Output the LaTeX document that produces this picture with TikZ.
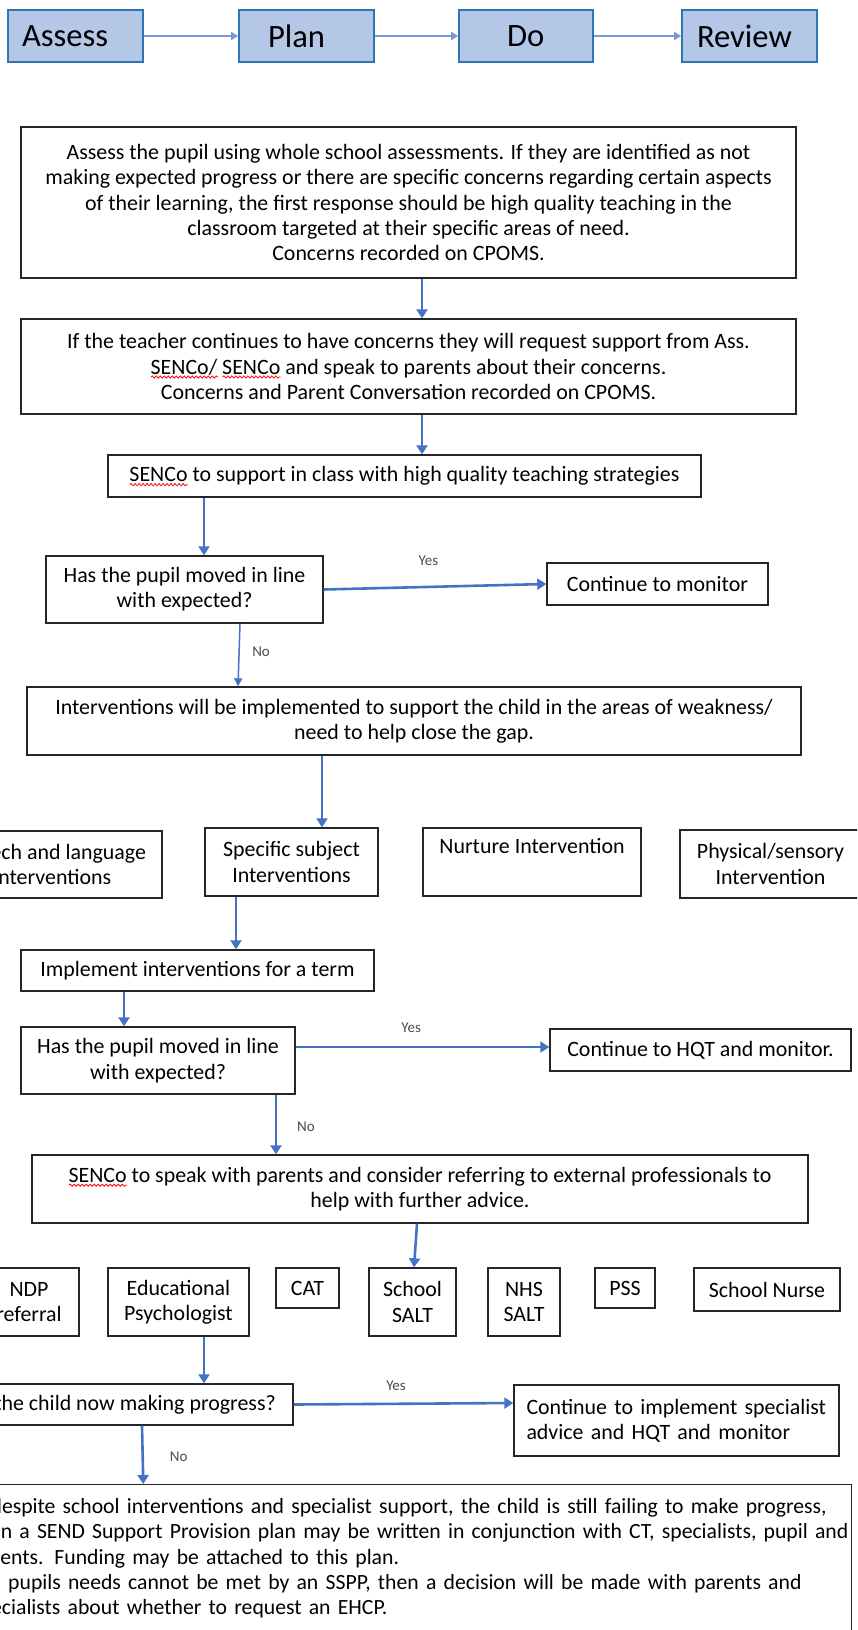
\documentclass[tikz,border=0pt]{standalone}
\usepackage{fontspec}
\setmainfont{Carlito}
\usetikzlibrary{arrows.meta, decorations.pathmorphing}

\definecolor{stageblue}{HTML}{B4C7E7}
\definecolor{stageedge}{HTML}{2E75B6}
\definecolor{flowblue}{HTML}{4472C4}
\definecolor{stagearrow}{HTML}{7A98D6}

\newsavebox{\spellbox}
\newcommand{\spellmark}[1]{%
    \sbox{\spellbox}{#1}%
    \rlap{\smash{\raisebox{-4.5pt}{\tikz \draw [red, line width=0.8pt, decorate, decoration={snake, amplitude=1.1pt, segment length=4pt}] (0pt, 0pt) -- (\wd\spellbox, 0pt);}}}%
    \usebox{\spellbox}}

\tikzset{
    stagebox/.style={draw=stageedge, fill=stageblue, line width=1.6pt, minimum height=52pt, inner ysep=0pt, align=left, font=\fontsize{32.6}{36}\selectfont},
    stepbox/.style={draw=black!85, line width=1.4pt, inner sep=0pt, align=center, font=\fontsize{21.9}{25.3}\selectfont},
    flow/.style={draw=flowblue, line width=2.6pt, -{Triangle[length=9pt, width=11pt]}},
    thinflow/.style={draw=flowblue, line width=1.5pt, -{Triangle[length=8pt, width=8pt]}},
    stageflow/.style={draw=stagearrow, line width=2pt, -{Triangle[length=7pt, width=8pt]}},
    answer/.style={font=\fontsize{15}{17}\selectfont, text=black!70}
}

\begin{document}
\begin{tikzpicture}[x=1pt, y=-1pt]

    \useasboundingbox (0, 0) rectangle (857, 1630);
    \fill [white] (0, 0) rectangle (857, 1630);
    \clip (0, 0) rectangle (857, 1630);

    % assess - plan - do - review
    \node (assess) at (75.5, 36) [stagebox, text width=107pt, inner xsep=14pt] {Assess};
    \node (plan) at (306.5, 36) [stagebox, text width=77pt, inner xsep=29pt] {Plan};
    \node (do) at (526, 36) [stagebox, text width=38pt, inner xsep=48pt] {Do};
    \node (review) at (749.5, 36) [stagebox, text width=105pt, inner xsep=15pt] {Review};

    \draw [stageflow] (assess) -- (plan);
    \draw [stageflow] (plan) -- (do);
    \draw [stageflow] (do) -- (review);

    \node (pupil) at (408.5, 202.5) [stepbox, minimum width=775pt, minimum height=151pt]
        {Assess the pupil using whole school assessments. If they are identified as not\\
         making expected progress or there are specific concerns regarding certain aspects\\
         of their learning, the first response should be high quality teaching in the\\
         classroom targeted at their specific areas of need.\\
         Concerns recorded on CPOMS.};
    \node (teacher) at (408.5, 366.5) [stepbox, minimum width=775pt, minimum height=95pt]
        {If the teacher continues to have concerns they will request support from Ass.\\
         \spellmark{SENCo/} \spellmark{SENCo} and speak to parents about their concerns.\\
         Concerns and Parent Conversation recorded on CPOMS.};
    \node (senco) at (404.5, 476) [stepbox, minimum width=593pt, minimum height=42pt]
        {\spellmark{SENCo} to support in class with high quality teaching strategies};
    \node (moved) at (184.5, 589.5) [stepbox, minimum width=277pt, minimum height=67pt]
        {Has the pupil moved in line\\ with expected?};
    \node (monitor) at (657.5, 584) [stepbox, minimum width=221pt, minimum height=42pt]
        {Continue to monitor};
    \node (interv) at (414, 721) [stepbox, minimum width=774pt, minimum height=68pt]
        {Interventions will be implemented to support the child in the areas of weakness/\\
         need to help close the gap.};

    \draw [flow] ([xshift=13.5pt]pupil.south) -- ([xshift=13.5pt]teacher.north);
    \draw [flow] ([xshift=13.5pt]teacher.south) -- ([xshift=17.5pt]senco.north);
    \draw [flow] ([xshift=-200.5pt]senco.south) -- ([xshift=19.5pt]moved.north);
    \draw [flow] (moved.east) -- (monitor.west) node [answer, pos=0.47, yshift=26pt] {Yes};
    \draw [thinflow] ([xshift=55.5pt]moved.south) -- ([xshift=-176pt]interv.north)
        node [answer, pos=0.45, xshift=22pt] {No};

    % intervention types
    \node (speech) at (52, 864.5) [stepbox, minimum width=220pt, minimum height=67pt]
        {Speech and language\\ Interventions};
    \node (subject) at (291.5, 862) [stepbox, minimum width=173pt, minimum height=68pt]
        {Specific subject\\ Interventions};
    \node (nurture) at (532, 862) [stepbox, minimum width=218pt, minimum height=68pt]
        {Nurture Intervention\\ \strut};
    \node (physical) at (770.5, 864) [stepbox, minimum width=181pt, minimum height=68pt]
        {Physical/sensory\\ Intervention};

    \node (term) at (197.5, 970.5) [stepbox, minimum width=353pt, minimum height=41pt]
        {Implement interventions for a term};
    \node (movedb) at (158, 1060.5) [stepbox, minimum width=274pt, minimum height=67pt]
        {Has the pupil moved in line\\ with expected?};
    \node (hqt) at (700.5, 1050) [stepbox, minimum width=301pt, minimum height=42pt]
        {Continue to HQT and monitor.};
    \node (refer) at (420, 1189) [stepbox, minimum width=776pt, minimum height=68pt]
        {\spellmark{SENCo} to speak with parents and consider referring to external professionals to\\
         help with further advice.};

    \draw [flow] ([xshift=-92pt]interv.south) -- ([xshift=30.5pt]subject.north);
    \draw [flow] ([xshift=-55.5pt]subject.south) -- ([xshift=38.5pt]term.north);
    \draw [flow] ([xshift=-73.5pt]term.south) -- ([xshift=-34pt]movedb.north);
    \draw [flow] ([yshift=13.5pt]movedb.east) -- ([yshift=3pt]hqt.west)
        node [answer, pos=0.455, yshift=19pt] {Yes};
    \draw [flow] ([xshift=118pt]movedb.south) -- ([xshift=-144pt]refer.north)
        node [answer, pos=0.54, xshift=30pt] {No};

    % external professionals
    \node (ndp) at (29, 1302) [stepbox, minimum width=100pt, minimum height=68pt] {NDP\\ referral};
    \node (edpsych) at (178.5, 1302) [stepbox, minimum width=141pt, minimum height=68pt] {Educational\\ Psychologist};
    \node (cat) at (307.5, 1288) [stepbox, minimum width=63pt, minimum height=40pt] {CAT};
    \node (ssalt) at (412.5, 1302) [stepbox, minimum width=87pt, minimum height=68pt] {School\\ SALT};
    \node (nsalt) at (524, 1302) [stepbox, minimum width=72pt, minimum height=68pt] {NHS\\ SALT};
    \node (pss) at (625, 1288) [stepbox, minimum width=60pt, minimum height=40pt] {PSS};
    \node (nurse) at (767, 1289.5) [stepbox, minimum width=146pt, minimum height=43pt] {School Nurse};

    \node (progress) at (125.5, 1404.5) [stepbox, minimum width=335pt, minimum height=41pt]
        {Is the child now making progress?};
    \node (specialist) at (676.5, 1420.5) [stepbox, minimum width=325pt, minimum height=71pt,
        align=left, text width=300pt, inner xsep=12.5pt]
        {Continue to implement specialist\\ advice and HQT and monitor};
    \node (sspp) at (852, 1484) [stepbox, anchor=north east, align=left, text width=877pt,
        inner xsep=3pt, inner ysep=14pt, text depth=150pt, font=\fontsize{21.7}{25.2}\selectfont]
        {\mbox{If despite school interventions and specialist support, the child is still failing to make progress,}\\
         \mbox{then a SEND Support Provision plan may be written in conjunction with CT, specialists, pupil and}\\
         \mbox{parents. Funding may be attached to this plan.}\\
         \mbox{If a pupils needs cannot be met by an SSPP, then a decision will be made with parents and}\\
         \mbox{specialists about whether to request an EHCP.}};

    \draw [flow] ([xshift=-3pt]refer.south) -- ([xshift=1.5pt]ssalt.north);
    \draw [flow] ([xshift=25.5pt]edpsych.south) -- ([xshift=78.5pt]progress.north);
    \draw [flow] (progress.east) -- ([yshift=17.5pt]specialist.west)
        node [answer, pos=0.466, yshift=18pt] {Yes};
    \draw [flow] ([xshift=16.5pt]progress.south) -- ([xshift=-266.5pt]sspp.north)
        node [answer, pos=0.54, xshift=36pt] {No};

\end{tikzpicture}
\end{document}
